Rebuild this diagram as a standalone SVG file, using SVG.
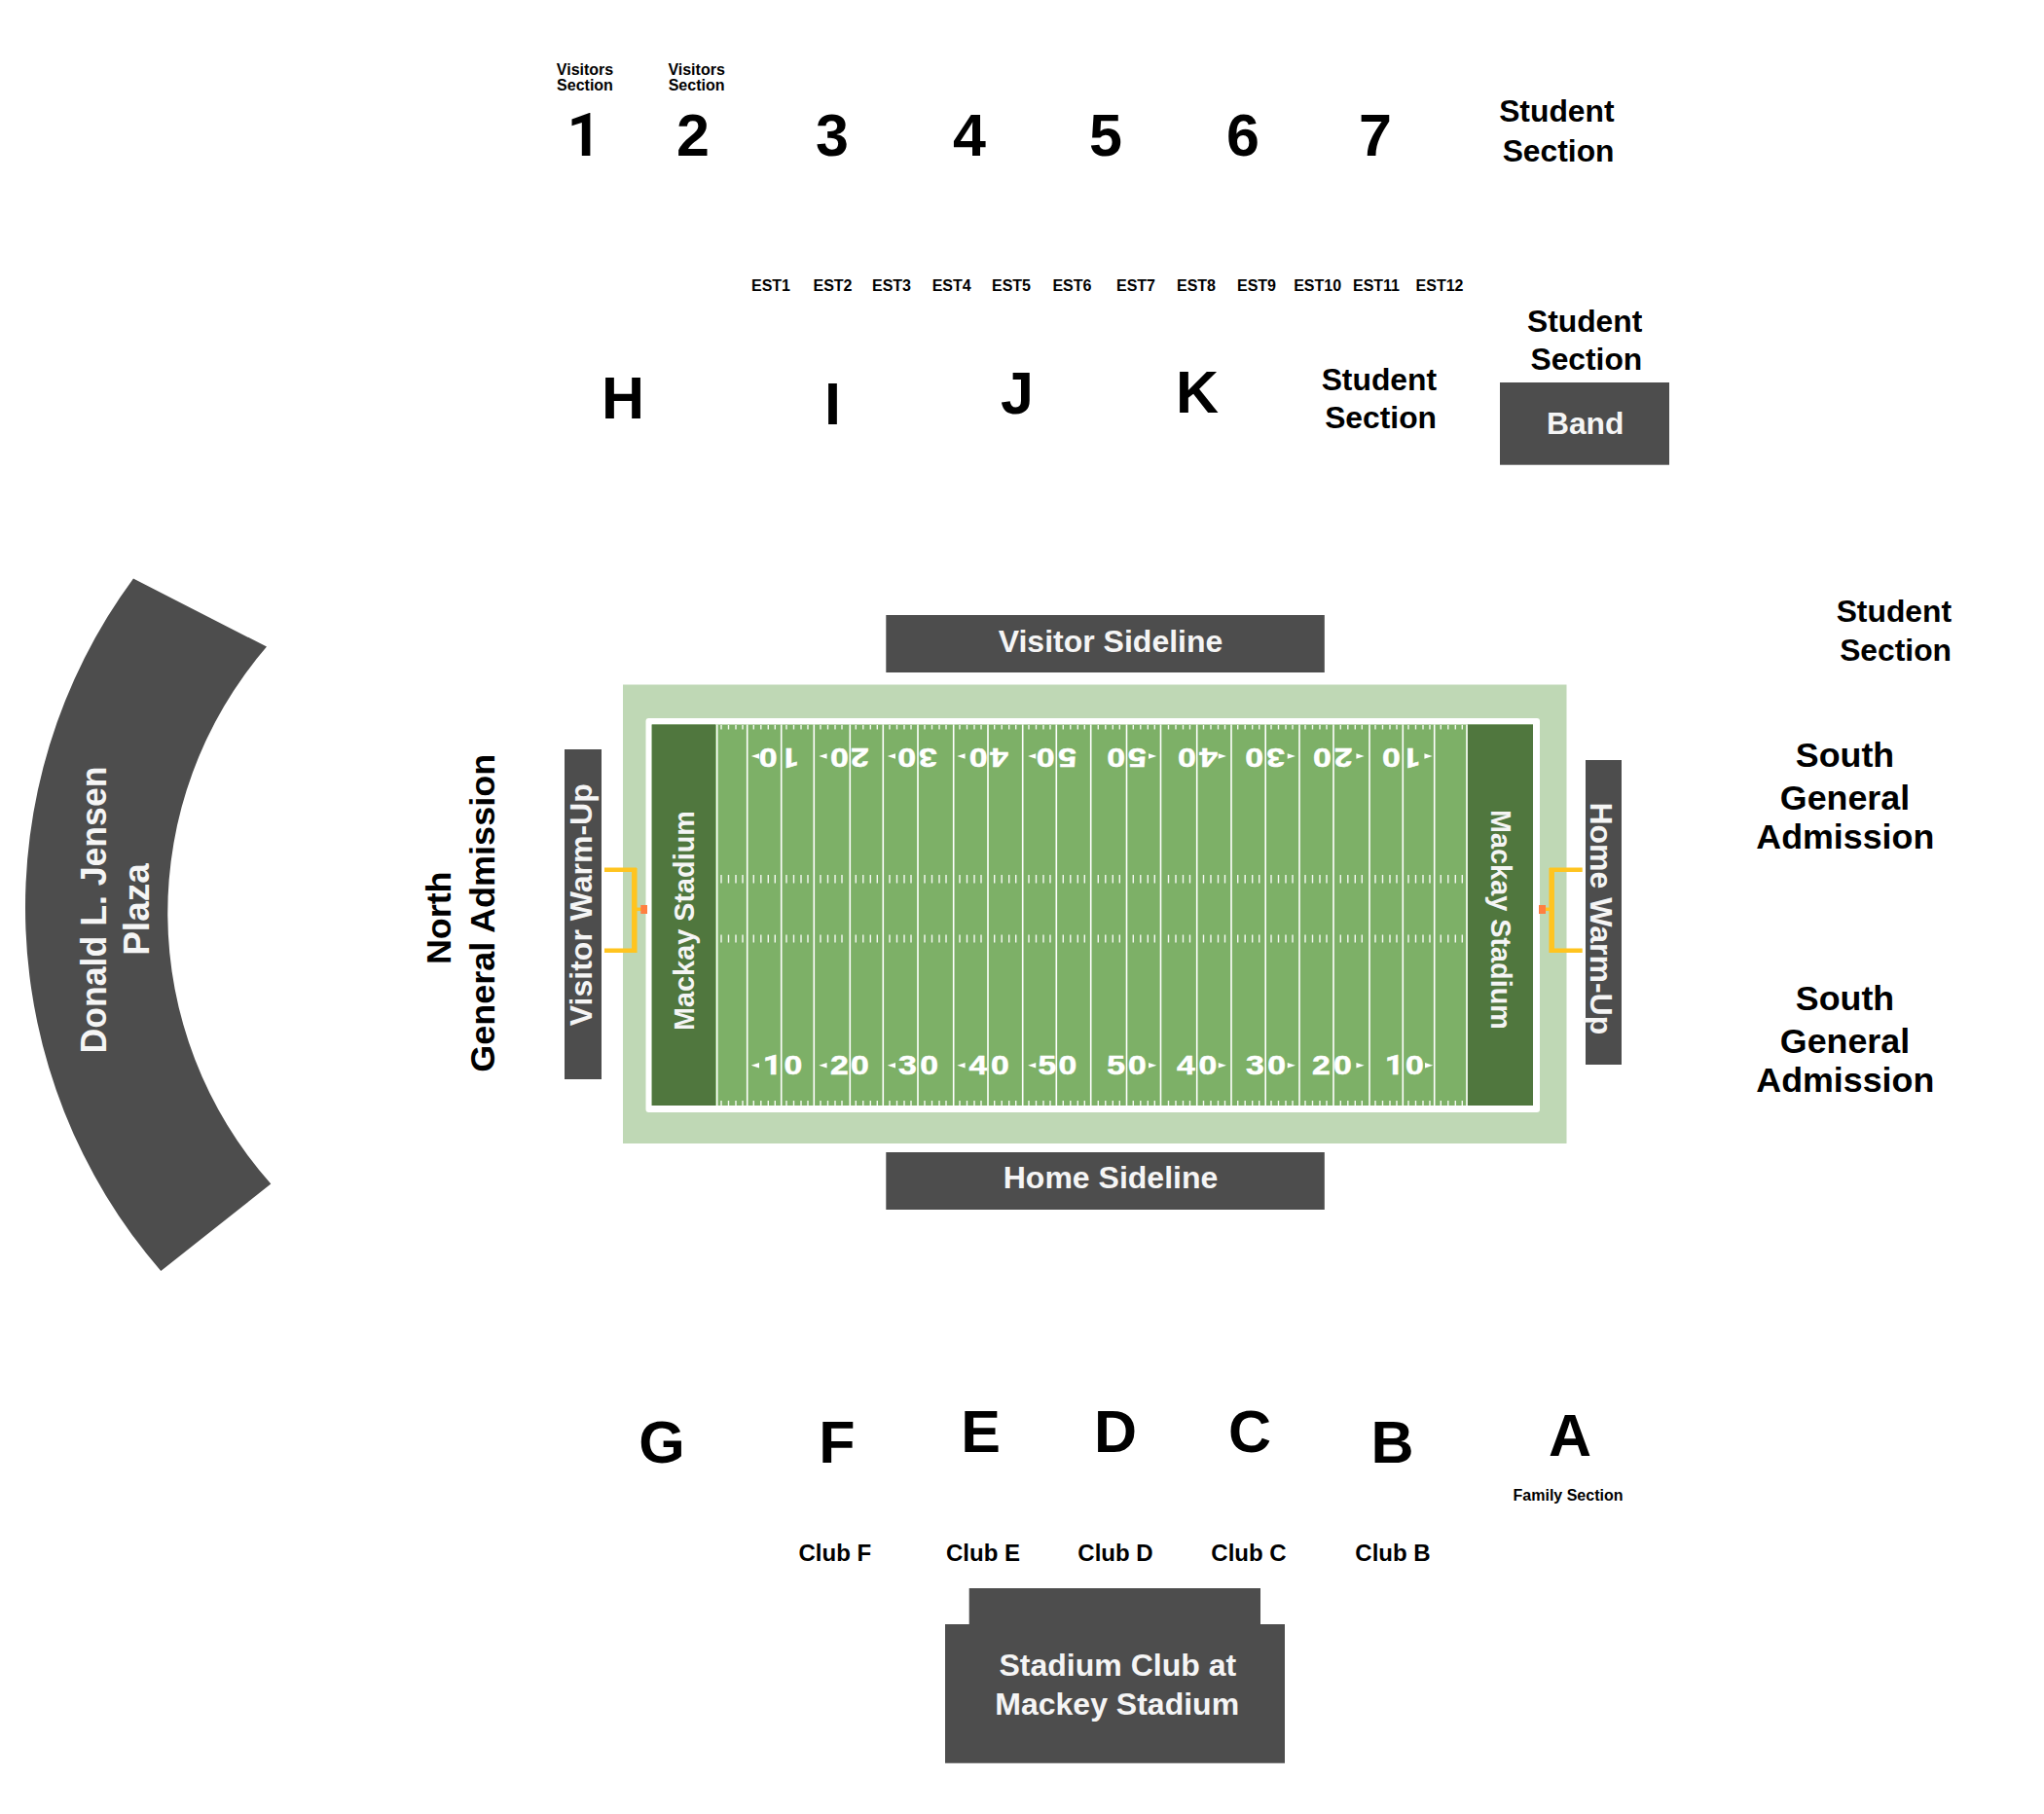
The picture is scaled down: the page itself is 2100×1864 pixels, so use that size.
<svg xmlns="http://www.w3.org/2000/svg" xmlns:xlink="http://www.w3.org/1999/xlink" width="2100" height="1864" viewBox="0 0 2100 1864">
<style>
text{font-family:"Liberation Sans",Arial,sans-serif;font-weight:700;fill:#000}
.m{text-anchor:middle}.e{text-anchor:end}
.w{fill:#f5f5f5}
.s16{font-size:16px}.s24{font-size:24px}.s31{font-size:31.8px}.s32{font-size:32px}.s35{font-size:35.8px}.s37{font-size:37px}.big{font-size:61px}
.dark{fill:#4d4d4d}
.yd{font-size:27px;fill:#fff;text-anchor:middle;stroke:#fff;stroke-width:.5}
text.r{font-family:Roboto,"Liberation Sans",sans-serif}
.ar{fill:#fff}
.yl{stroke:#fff;stroke-width:1.6;fill:none}
.tk{stroke:#fff;stroke-width:1.4;fill:none;opacity:.92}
.gp{stroke:#ffc41f;fill:none}
</style>
<defs>
<g id="ticks"><path class="tk" d="M0 745V749.5M7.5 745V749.5M15 745V749.5M22 745V749.5M0 899V907.5M7.5 899V907.5M15 899V907.5M22 899V907.5M0 960.5V968.5M7.5 960.5V968.5M15 960.5V968.5M22 960.5V968.5M0 1131V1136M7.5 1131V1136M15 1131V1136M22 1131V1136"/></g>
</defs>
<rect width="2100" height="1864" fill="#fff"/>
<g id="plaza"><path class="dark" d="M137 594.4A570.4 570.4 0 0 0 165.3 1306L278.3 1216.5A418.5 418.5 0 0 1 274 664.6Z"/>
<text class="s37 m w" transform="translate(109,935) rotate(-90)" textLength="295" lengthAdjust="spacingAndGlyphs">Donald L. Jensen</text>
<text class="s37 m w" transform="translate(152.7,934.5) rotate(-90)">Plaza</text></g>
<g id="north-ga"><text class="s35 m" transform="translate(463.3,943.3) rotate(-90)">North</text>
<text class="s35 m" transform="translate(507.7,938.3) rotate(-90)" textLength="327" lengthAdjust="spacingAndGlyphs">General Admission</text></g>
<g id="field">
<rect x="640" y="703.5" width="969.5" height="471.5" fill="#bfd8b5"/>
<rect x="663.5" y="738" width="918.5" height="405" rx="3" fill="#fff"/>
<rect x="669.7" y="744.5" width="905.3" height="391.5" fill="#7db067"/>
<rect x="669.7" y="744.5" width="65.3" height="391.5" fill="#50773e"/>
<rect x="1507.7" y="744.5" width="67.3" height="391.5" fill="#50773e"/>
<g id="yard-lines"><path class="yl" d="M736.7 744.5V1136M767.7 744.5V1136M802.7 744.5V1136M836.3 744.5V1136M873.3 744.5V1136M907.3 744.5V1136M943 744.5V1136M979.7 744.5V1136M1015 744.5V1136M1050.7 744.5V1136M1085.3 744.5V1136M1120.7 744.5V1136M1157.5 744.5V1136M1192.5 744.5V1136M1229.7 744.5V1136M1265 744.5V1136M1300.2 744.5V1136M1335 744.5V1136M1370 744.5V1136M1407 744.5V1136M1441.3 744.5V1136M1473.7 744.5V1136M1507 744.5V1136"/></g>
<g id="hash-marks">
<use href="#ticks" x="741"/><use href="#ticks" x="774.3"/><use href="#ticks" x="808"/><use href="#ticks" x="843"/><use href="#ticks" x="879.3"/><use href="#ticks" x="914"/><use href="#ticks" x="950"/><use href="#ticks" x="986"/><use href="#ticks" x="1021.7"/><use href="#ticks" x="1057"/><use href="#ticks" x="1092.3"/><use href="#ticks" x="1128.3"/><use href="#ticks" x="1164.3"/><use href="#ticks" x="1200.5"/><use href="#ticks" x="1236.5"/><use href="#ticks" x="1271.7"/><use href="#ticks" x="1306"/><use href="#ticks" x="1341"/><use href="#ticks" x="1377.3"/><use href="#ticks" x="1413"/><use href="#ticks" x="1447"/><use href="#ticks" x="1480.3"/>
</g>
<g id="numbers-bottom">
<text class="yd r" transform="translate(793.5,1104) scale(1.25,1)">1</text><text class="yd" transform="translate(815,1104) scale(1.25,1)">0</text>
<text class="yd" transform="translate(862.3,1104) scale(1.25,1)">2</text><text class="yd" transform="translate(883.3,1104) scale(1.25,1)">0</text>
<text class="yd" transform="translate(932.3,1104) scale(1.25,1)">3</text><text class="yd" transform="translate(954.7,1104) scale(1.25,1)">0</text>
<text class="yd" transform="translate(1005,1104) scale(1.25,1)">4</text><text class="yd" transform="translate(1027.3,1104) scale(1.25,1)">0</text>
<text class="yd" transform="translate(1076,1104) scale(1.25,1)">5</text><text class="yd" transform="translate(1097,1104) scale(1.25,1)">0</text>
<text class="yd" transform="translate(1146.7,1104) scale(1.25,1)">5</text><text class="yd" transform="translate(1168.3,1104) scale(1.25,1)">0</text>
<text class="yd" transform="translate(1218.3,1104) scale(1.25,1)">4</text><text class="yd" transform="translate(1241,1104) scale(1.25,1)">0</text>
<text class="yd" transform="translate(1289.3,1104) scale(1.25,1)">3</text><text class="yd" transform="translate(1311.7,1104) scale(1.25,1)">0</text>
<text class="yd" transform="translate(1357.3,1104) scale(1.25,1)">2</text><text class="yd" transform="translate(1379.3,1104) scale(1.25,1)">0</text>
<text class="yd r" transform="translate(1432.5,1104) scale(1.25,1)">1</text><text class="yd" transform="translate(1453.3,1104) scale(1.25,1)">0</text>
<path class="ar" d="M771.7 1094.7L780 1092V1097.4ZM841.3 1094.7L849.6 1092V1097.4ZM911.7 1094.7L920 1092V1097.4ZM983.3 1094.7L991.6 1092V1097.4ZM1056 1094.7L1064.3 1092V1097.4ZM1188.3 1094.7L1180 1092V1097.4ZM1260 1094.7L1251.7 1092V1097.4ZM1331 1094.7L1322.7 1092V1097.4ZM1401.7 1094.7L1393.4 1092V1097.4ZM1472.3 1094.7L1464 1092V1097.4Z"/>
</g>
<g id="numbers-top">
<text class="yd" transform="translate(789,769) rotate(180) scale(1.25,1)">0</text><text class="yd r" transform="translate(811.5,769) rotate(180) scale(1.25,1)">1</text>
<text class="yd" transform="translate(862.3,769) rotate(180) scale(1.25,1)">0</text><text class="yd" transform="translate(883.3,769) rotate(180) scale(1.25,1)">2</text>
<text class="yd" transform="translate(931.7,769) rotate(180) scale(1.25,1)">0</text><text class="yd" transform="translate(953.3,769) rotate(180) scale(1.25,1)">3</text>
<text class="yd" transform="translate(1005,769) rotate(180) scale(1.25,1)">0</text><text class="yd" transform="translate(1026.7,769) rotate(180) scale(1.25,1)">4</text>
<text class="yd" transform="translate(1074.2,769) rotate(180) scale(1.25,1)">0</text><text class="yd" transform="translate(1096.7,769) rotate(180) scale(1.25,1)">5</text>
<text class="yd" transform="translate(1146.7,769) rotate(180) scale(1.25,1)">0</text><text class="yd" transform="translate(1168.3,769) rotate(180) scale(1.25,1)">5</text>
<text class="yd" transform="translate(1219.3,769) rotate(180) scale(1.25,1)">0</text><text class="yd" transform="translate(1241.7,769) rotate(180) scale(1.25,1)">4</text>
<text class="yd" transform="translate(1288.5,769) rotate(180) scale(1.25,1)">0</text><text class="yd" transform="translate(1310.7,769) rotate(180) scale(1.25,1)">3</text>
<text class="yd" transform="translate(1358.3,769) rotate(180) scale(1.25,1)">0</text><text class="yd" transform="translate(1380,769) rotate(180) scale(1.25,1)">2</text>
<text class="yd" transform="translate(1429.3,769) rotate(180) scale(1.25,1)">0</text><text class="yd r" transform="translate(1450,769) rotate(180) scale(1.25,1)">1</text>
<path class="ar" d="M771.7 777L780 774.3V779.7ZM841.3 777L849.6 774.3V779.7ZM911.7 777L920 774.3V779.7ZM983.3 777L991.6 774.3V779.7ZM1056 777L1064.3 774.3V779.7ZM1188.3 777L1180 774.3V779.7ZM1260 777L1251.7 774.3V779.7ZM1331 777L1322.7 774.3V779.7ZM1401.7 777L1393.4 774.3V779.7ZM1471.7 777L1463.4 774.3V779.7Z"/>
</g>
<text class="m w" transform="translate(713.3,946) rotate(-90)" textLength="226" lengthAdjust="spacingAndGlyphs" style="font-size:30px">Mackay Stadium</text>
<text class="m w" transform="translate(1531.7,945) rotate(90)" textLength="226" lengthAdjust="spacingAndGlyphs" style="font-size:30px">Mackay Stadium</text>
</g>
<g id="goal-left"><path class="gp" stroke-width="5.5" d="M651.8 892V979"/><path class="gp" stroke-width="4.5" d="M621 893.7H654M621 976.8H654"/><path class="gp" stroke-width="3.5" d="M654 934.3H659"/><rect x="658.3" y="930" width="6.7" height="9" fill="#ff7f41"/></g>
<g id="goal-right"><path class="gp" stroke-width="5.5" d="M1594.2 892V979"/><path class="gp" stroke-width="4.5" d="M1592 893.7H1625.7M1592 976.8H1625.7"/><path class="gp" stroke-width="3.5" d="M1587 934.3H1592"/><rect x="1581" y="930" width="7" height="9" fill="#ff7f41"/></g>
<g id="visitor-warmup"><rect class="dark" x="580" y="770" width="38" height="339"/><text class="s32 m w" transform="translate(608.3,929.7) rotate(-90)">Visitor Warm-Up</text></g>
<g id="home-warmup"><rect class="dark" x="1629" y="781" width="37" height="313"/><text class="s32 m w" transform="translate(1634.3,943.8) rotate(90)">Home Warm-Up</text></g>
<g id="visitor-sideline"><rect class="dark" x="910.3" y="632" width="450.5" height="59"/><text class="s32 m w" x="1141" y="670">Visitor Sideline</text></g>
<g id="home-sideline"><rect class="dark" x="910.3" y="1184" width="450.5" height="59"/><text class="s32 m w" x="1141" y="1220.5">Home Sideline</text></g>
<g id="band"><rect class="dark" x="1541" y="393" width="174" height="84.7"/><text class="s31 m w" x="1628.7" y="446">Band</text></g>
<g id="stadium-club"><path class="dark" d="M995.7 1632H1295V1669H1320V1811.7H971V1669H995.7Z"/><text class="s32 m w" x="1148.3" y="1721.7">Stadium Club at</text><text class="s32 m w" x="1147.7" y="1761.7">Mackey Stadium</text></g>
<g id="upper-sections">
<text class="s16 m" x="601" y="76.7">Visitors</text><text class="s16 m" x="601" y="92.7">Section</text>
<text class="s16 m" x="715.6" y="76.7">Visitors</text><text class="s16 m" x="715.6" y="92.7">Section</text>
<text class="big m r" x="600" y="159.5">1</text><text class="big m" x="712" y="159.5">2</text><text class="big m" x="855" y="159.5">3</text><text class="big m" x="996" y="159.5">4</text><text class="big m" x="1136" y="159.5">5</text><text class="big m" x="1277" y="159.5">6</text><text class="big m" x="1413" y="159.5">7</text>
</g>
<g id="student-sections">
<text class="s31 e" x="1658.5" y="125.3">Student</text><text class="s31 e" x="1658.5" y="165.7">Section</text>
<text class="s31 e" x="1476" y="400.7">Student</text><text class="s31 e" x="1476" y="440">Section</text>
<text class="s31 e" x="1687.3" y="340.7">Student</text><text class="s31 e" x="1687.3" y="380">Section</text>
<text class="s31 e" x="2005" y="639">Student</text><text class="s31 e" x="2005" y="679.3">Section</text>
</g>
<g id="est-sections">
<text class="s16 m" x="792" y="299">EST1</text><text class="s16 m" x="855.5" y="299">EST2</text><text class="s16 m" x="916" y="299">EST3</text><text class="s16 m" x="977.7" y="299">EST4</text><text class="s16 m" x="1039" y="299">EST5</text><text class="s16 m" x="1101.4" y="299">EST6</text><text class="s16 m" x="1167" y="299">EST7</text><text class="s16 m" x="1229" y="299">EST8</text><text class="s16 m" x="1291" y="299">EST9</text><text class="s16 m" x="1353.6" y="299">EST10</text><text class="s16 m" x="1414" y="299">EST11</text><text class="s16 m" x="1479" y="299">EST12</text>
</g>
<g id="mid-sections">
<text class="big m" x="640" y="430">H</text><text class="big m" x="855.5" y="435.7">I</text><text class="big m" x="1045" y="424.5">J</text><text class="big m" x="1230" y="424">K</text>
</g>
<g id="south-ga">
<text class="s35 m" x="1895.5" y="787.7">South</text><text class="s35 m" x="1895.5" y="831.7">General</text><text class="s35 m" x="1895.8" y="871.7">Admission</text>
<text class="s35 m" x="1895.5" y="1037.7">South</text><text class="s35 m" x="1895.5" y="1081.7">General</text><text class="s35 m" x="1895.8" y="1121.7">Admission</text>
</g>
<g id="lower-sections">
<text class="big m" x="680" y="1503">G</text><text class="big m" x="860" y="1502.7">F</text><text class="big m" x="1007.5" y="1492">E</text><text class="big m" x="1146" y="1492">D</text><text class="big m" x="1284" y="1492">C</text><text class="big m" x="1430.5" y="1502.7">B</text><text class="big m" x="1613" y="1496">A</text>
<text class="s16 m" x="1611" y="1542.3">Family Section</text>
<text class="s24 m" x="857.8" y="1603.7">Club F</text><text class="s24 m" x="1010" y="1603.7">Club E</text><text class="s24 m" x="1146" y="1603.7">Club D</text><text class="s24 m" x="1283" y="1603.7">Club C</text><text class="s24 m" x="1431" y="1603.7">Club B</text>
</g>
</svg>
